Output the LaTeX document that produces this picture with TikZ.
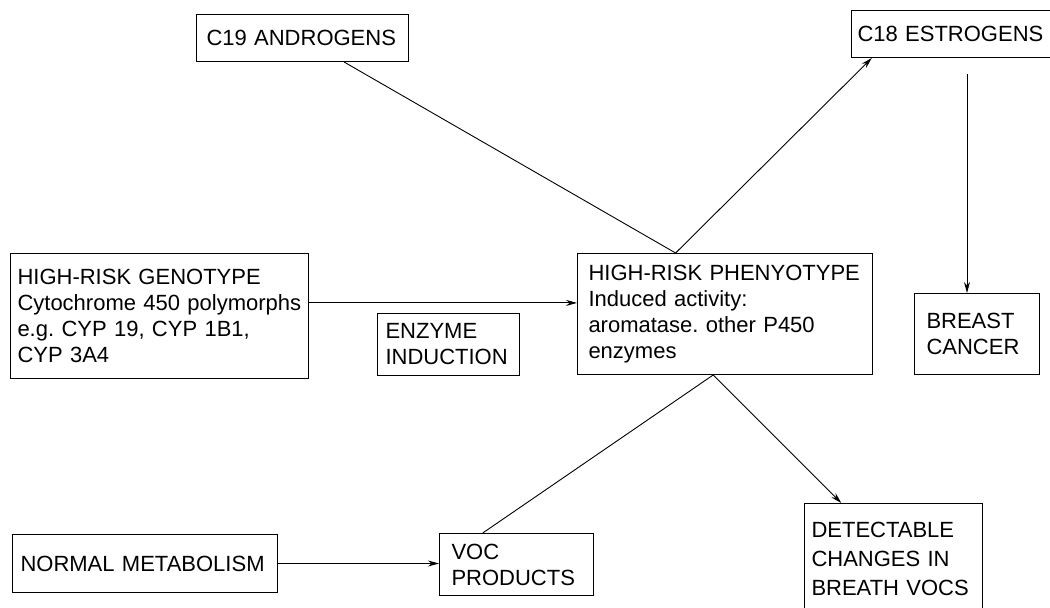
\documentclass[tikz,border=0pt]{standalone}
\usepackage{fontspec}
\setmainfont{Liberation Sans}
\usetikzlibrary{arrows.meta}
\frenchspacing

\begin{document}
\begin{tikzpicture}[x=1pt,y=-1pt,
  box/.style={draw,line width=1pt,anchor=north west,align=left,inner ysep=0pt,
    font=\fontsize{22}{26}\selectfont},
  link/.style={line width=0.9pt},
  arr/.style={link,-{Stealth[length=11pt,width=6pt]}}]
\useasboundingbox (0,0) rectangle (1050,608);

\node[box,inner xsep=10pt,text width=192pt,minimum height=47pt] (andro) at (196,14) {C19 ANDROGENS};
\node[box,inner xsep=6pt,text width=196pt,minimum height=47pt] (estro) at (851,10) {C18 ESTROGENS};
\node[box,inner xsep=7pt,text width=284pt,minimum height=125pt] (geno) at (10,253)
  {HIGH-RISK GENOTYPE\\Cytochrome 450 polymorphs\\e.g. CYP 19, CYP 1B1,\\CYP 3A4};
\node[box,inner xsep=8pt,text width=126pt,minimum height=62pt] (induct) at (377,313) {ENZYME\\INDUCTION};
\node[box,inner xsep=11pt,text width=273pt,minimum height=121pt] (pheno) at (577,253)
  {HIGH-RISK PHENYOTYPE\\Induced activity:\\aromatase. other P450\\enzymes};
\node[box,inner xsep=12pt,text width=101pt,minimum height=81pt] (cancer) at (914,293) {BREAST\\CANCER};
\node[box,inner xsep=8pt,text width=249pt,minimum height=58pt] (normal) at (12,534) {NORMAL METABOLISM};
\node[box,inner xsep=12pt,text width=130pt,minimum height=62pt] (voc) at (439,533) {VOC\\PRODUCTS};
\node[box,inner xsep=7pt,text width=164pt,minimum height=111pt,font=\fontsize{22}{29}\selectfont] (detect) at (804,503)
  {DETECTABLE\\CHANGES IN\\BREATH VOCS};
\coordinate (drop) at (967,74);

\draw[link] (andro.-30) -- (pheno.129);
\draw[arr] (pheno.129) -- (estro.-164);
\draw[arr] (drop) -- (drop |- cancer.north);
\draw[arr] (geno.5) -- (geno.5 -| pheno.west);
\draw[link] (voc.137) -- (pheno.259);
\draw[arr] (pheno.259) -- (detect.133);
\draw[arr] (normal.east) -- (normal.east -| voc.west);
\end{tikzpicture}
\end{document}
